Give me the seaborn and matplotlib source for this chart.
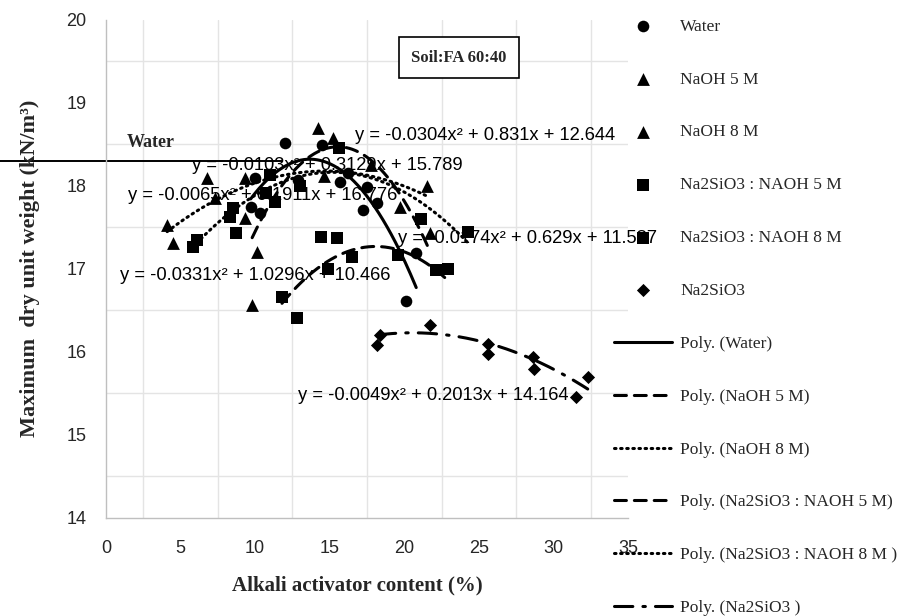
import numpy as np
import pandas as pd
import matplotlib
matplotlib.use("Agg")
import matplotlib.pyplot as plt
from matplotlib.ticker import FixedLocator
import seaborn as sns

# ---- measured points: alkali activator content (%) vs max dry unit weight (kN/m3)
water_x = [9.7, 10.0, 10.3, 12.0, 12.9, 14.5, 15.7, 16.2, 17.2, 17.5, 18.2, 20.1, 20.8]
water_y = [17.75, 18.10, 17.67, 18.52, 18.07, 18.49, 18.05, 18.16, 17.71, 17.99, 17.80, 16.61, 17.19]

naoh5_x = [9.8, 10.1, 14.2, 15.2, 17.8, 19.7, 21.7]
naoh5_y = [16.57, 17.20, 18.70, 18.58, 18.25, 17.75, 17.43]

naoh8_x = [4.1, 4.5, 6.8, 7.3, 9.3, 9.3, 14.6, 21.5]
naoh8_y = [17.53, 17.31, 18.10, 17.86, 18.10, 17.61, 18.12, 18.00]

sn5_x = [11.8, 12.8, 14.4, 14.9, 15.5, 16.5, 19.6, 22.1, 22.9]
sn5_y = [16.66, 16.41, 17.39, 17.00, 17.37, 17.14, 17.17, 16.99, 17.00]

sn8_x = [5.8, 6.1, 8.3, 8.5, 8.7, 10.7, 11.0, 11.3, 13.0, 15.6, 21.1, 24.3]
sn8_y = [17.27, 17.35, 17.63, 17.73, 17.43, 17.92, 18.13, 17.81, 18.00, 18.46, 17.60, 17.45]

sil_x = [18.2, 18.4, 21.7, 25.6, 25.6, 28.6, 28.7, 31.5, 32.3]
sil_y = [16.09, 16.21, 16.32, 16.10, 15.98, 15.94, 15.80, 15.46, 15.70]

# ---- second-order trend line coefficients (a, b, c) for y = a x^2 + b x + c
water_fit = [-0.0304, 0.831, 12.644]
naoh5_fit = [-0.0331, 1.0296, 10.466]
naoh8_fit = [-0.0065, 0.1911, 16.776]
sn5_fit = [-0.0174, 0.629, 11.587]
sn8_fit = [-0.0103, 0.3129, 15.789]
sil_fit = [-0.0049, 0.2013, 14.164]

series_names = ["Water", "NaOH 5 M", "NaOH 8 M", "Na2SiO3 : NAOH 5 M",
                "Na2SiO3 : NAOH 8 M", "Na2SiO3"]
trend_names = ["Poly. (Water)", "Poly. (NaOH 5 M)", "Poly. (NaOH 8 M)",
               "Poly. (Na2SiO3 : NAOH 5 M)", "Poly. (Na2SiO3 : NAOH 8 M )",
               "Poly. (Na2SiO3 )"]

# reference level of the water-only mix
water_level = 18.3
water_level_end = 11.8

x_ticks = [0, 5, 10, 15, 20, 25, 30, 35]
y_ticks = [14, 15, 16, 17, 18, 19, 20]

# ---- styling
markers = ["o", "^", "^", "s", "s", "D"]
marker_sizes = [70, 85, 85, 70, 70, 45]
lw = 2.2
dashed = (0, (3.9, 2.6))
dotted = (0, (0.5, 1.5))
dashdot = (0, (6.0, 3.3, 0.8, 3.3))
line_styles = ["-", dashed, dotted, dashed, dotted, dashdot]

serif = "Liberation Serif"
sans = "Liberation Sans"

sns.set_theme(style="white")
plt.rcParams["font.family"] = [sans, "DejaVu Sans"]

fig = plt.figure(figsize=(9.12, 6.16), dpi=100)
ax = fig.add_axes([106 / 912, 1 - 518 / 616, 522 / 912, 498 / 616])

xs = [water_x, naoh5_x, naoh8_x, sn5_x, sn8_x, sil_x]
ys = [water_y, naoh5_y, naoh8_y, sn5_y, sn8_y, sil_y]
fits = [water_fit, naoh5_fit, naoh8_fit, sn5_fit, sn8_fit, sil_fit]

for x, y, name, m, s in zip(xs, ys, series_names, markers, marker_sizes):
    df = pd.DataFrame({"x": x, "y": y})
    sns.scatterplot(data=df, x="x", y="y", ax=ax, marker=m, s=s, color="black",
                    edgecolor="black", linewidth=0, label=name, zorder=3)

# trend curves evaluated from the stated coefficients over each series' range
for x, coef, name, ls in zip(xs, fits, trend_names, line_styles):
    xx = np.linspace(min(x), max(x), 200)
    yy = np.polyval(coef, xx)
    df = pd.DataFrame({"x": xx, "y": yy})
    sns.lineplot(data=df, x="x", y="y", ax=ax, color="black", linewidth=lw,
                 linestyle=ls, label=name, dash_capstyle="round", zorder=4)

# water-only reference line, running out into the left margin
ax.plot([-7.2, water_level_end], [water_level, water_level], color="black",
        linewidth=1.4, clip_on=False, zorder=2)
ax.text(1.4, 18.52, "Water", fontfamily=serif, fontweight="bold",
        fontsize=13, ha="left", va="center")

# trend equations
eq_font = dict(fontfamily=sans, fontsize=13.2, color="black", va="center",
               ha="left", zorder=5)


def eq_text(coef):
    a, b, c = coef
    return f"y = {a:g}x\u00b2 + {b:g}x + {c:g}"


ax.text(16.7, 18.61, eq_text(water_fit), **eq_font)
ax.text(5.77, 18.25, eq_text(sn8_fit), **eq_font)
ax.text(1.48, 17.89, eq_text(naoh8_fit), **eq_font)
ax.text(19.6, 17.37, eq_text(sn5_fit), **eq_font)
ax.text(0.94, 16.92, eq_text(naoh5_fit), **eq_font)
ax.text(12.9, 15.48, eq_text(sil_fit), **eq_font)

# boxed mix label
ax.text(0.676, 0.924, "Soil:FA 60:40", transform=ax.transAxes, fontfamily=serif,
        fontweight="bold", fontsize=12, ha="center", va="center",
        bbox=dict(boxstyle="square,pad=0.75", facecolor="white",
                  edgecolor="black", linewidth=1.2), zorder=6)

# axes, ticks and grid
ax.set_xlim(0, 35)
ax.set_ylim(14, 20)
ax.xaxis.set_major_locator(FixedLocator(x_ticks))
ax.yaxis.set_major_locator(FixedLocator(y_ticks))
ax.xaxis.set_minor_locator(FixedLocator(np.arange(2.5, 35, 5)))
ax.yaxis.set_minor_locator(FixedLocator(np.arange(14.5, 20, 1)))
ax.grid(False)
ax.grid(which="minor", color="#e4e4e4", linewidth=1.0)
ax.tick_params(which="major", direction="in", length=4, width=1, color="#bfbfbf",
               labelsize=13, pad=14)
ax.tick_params(axis="x", which="major", pad=16)
ax.tick_params(which="minor", length=0)
for lab in ax.get_xticklabels() + ax.get_yticklabels():
    lab.set_fontfamily(sans)

for side in ["top", "right"]:
    ax.spines[side].set_visible(False)
for side in ["left", "bottom"]:
    ax.spines[side].set_color("#bfbfbf")
    ax.spines[side].set_linewidth(1.0)

ax.set_xlabel("")
ax.set_ylabel("")
fig.text(357 / 912, 1 - 585 / 616, "Alkali activator content (%)", fontfamily=serif,
         fontweight="bold", fontsize=15, ha="center", va="center")
fig.text(30 / 912, 1 - 268 / 616, "Maximum  dry unit weight (kN/m\u00b3)",
         fontfamily=serif, fontweight="bold", fontsize=16, rotation=90,
         ha="center", va="center")

handles, labels = ax.get_legend_handles_labels()
if ax.get_legend() is not None:
    ax.get_legend().remove()
fig.legend(handles, labels, loc="upper left",
           bbox_to_anchor=(614 / 912, 1.0 - 18.5 / 616),
           frameon=False, prop={"family": serif, "size": 12.5},
           handlelength=3.34, handletextpad=0.46, labelspacing=2.115, borderpad=0,
           borderaxespad=0)

fig.savefig("out.png", dpi=100)
